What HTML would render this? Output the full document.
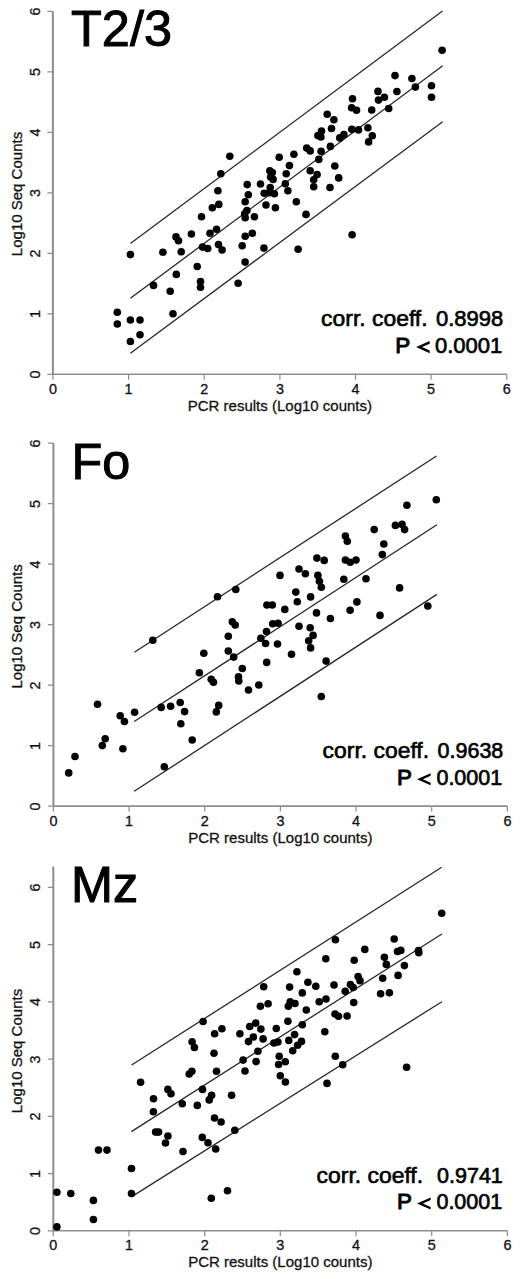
<!DOCTYPE html>
<html><head><meta charset="utf-8"><style>
html,body{margin:0;padding:0;background:#fff;}
svg{display:block;}
text{font-family:"Liberation Sans",sans-serif;fill:#000;}
.tk{font-size:14.4px;fill:#111;stroke:#111;stroke-width:0.3;}
.lb{font-size:15px;fill:#111;stroke:#111;stroke-width:0.3;}
.tt{font-size:50.4px;stroke:#000;stroke-width:1.0;}
.cc{font-size:22.4px;font-weight:normal;stroke:#000;stroke-width:0.65;}
</style></head><body>
<svg width="520" height="1279" viewBox="0 0 520 1279">
<rect width="520" height="1279" fill="#fff"/>
<g stroke="#8e8e8e" fill="none"><path stroke-width="1.6" d="M52.9 374.3H506.8"/><path stroke-width="2.0" d="M52.9 374.3V11.3"/><path stroke-width="1.2" d="M52.9 374.3v5.5M128.6 374.3v5.5M204.2 374.3v5.5M279.9 374.3v5.5M355.5 374.3v5.5M431.1 374.3v5.5M506.8 374.3v5.5"/><path stroke-width="1.2" d="M52.9 374.3h-5.5M52.9 313.8h-5.5M52.9 253.3h-5.5M52.9 192.8h-5.5M52.9 132.3h-5.5M52.9 71.8h-5.5M52.9 11.3h-5.5"/></g>
<text class="tk" x="52.9" y="393.7" text-anchor="middle">0</text><text class="tk" x="128.6" y="393.7" text-anchor="middle">1</text><text class="tk" x="204.2" y="393.7" text-anchor="middle">2</text><text class="tk" x="279.9" y="393.7" text-anchor="middle">3</text><text class="tk" x="355.5" y="393.7" text-anchor="middle">4</text><text class="tk" x="431.1" y="393.7" text-anchor="middle">5</text><text class="tk" x="506.8" y="393.7" text-anchor="middle">6</text>
<text class="tk" transform="translate(39.6 374.6) rotate(-90)" text-anchor="middle">0</text><text class="tk" transform="translate(39.6 314.1) rotate(-90)" text-anchor="middle">1</text><text class="tk" transform="translate(39.6 253.6) rotate(-90)" text-anchor="middle">2</text><text class="tk" transform="translate(39.6 193.1) rotate(-90)" text-anchor="middle">3</text><text class="tk" transform="translate(39.6 132.6) rotate(-90)" text-anchor="middle">4</text><text class="tk" transform="translate(39.6 72.1) rotate(-90)" text-anchor="middle">5</text><text class="tk" transform="translate(39.6 11.6) rotate(-90)" text-anchor="middle">6</text>
<text class="lb" x="279.9" y="410.8" text-anchor="middle">PCR results (Log10 counts)</text>
<text class="lb" transform="translate(22 194) rotate(-90)" text-anchor="middle">Log10 Seq Counts</text>
<text class="tt" x="71.1" y="45.6">T2/3</text>
<g stroke="#262626" stroke-width="1.3"><line x1="130.4" y1="243.5" x2="442.5" y2="11.1"/><line x1="130.4" y1="298.3" x2="442.7" y2="65.8"/><line x1="130.4" y1="353.3" x2="442.7" y2="121.7"/></g>
<g fill="#000"><circle cx="130.4" cy="254.6" r="3.8"/><circle cx="162.9" cy="252.3" r="3.8"/><circle cx="176" cy="236.9" r="3.8"/><circle cx="178.5" cy="240.8" r="3.8"/><circle cx="191.4" cy="234" r="3.8"/><circle cx="181.2" cy="251.7" r="3.8"/><circle cx="197.2" cy="266.5" r="3.8"/><circle cx="176.3" cy="274.4" r="3.8"/><circle cx="153.5" cy="285.4" r="3.8"/><circle cx="170.2" cy="291.2" r="3.8"/><circle cx="200.5" cy="281.6" r="3.8"/><circle cx="200.5" cy="287.3" r="3.8"/><circle cx="117.3" cy="312.3" r="3.8"/><circle cx="117.3" cy="324" r="3.8"/><circle cx="130.4" cy="320" r="3.8"/><circle cx="140" cy="320" r="3.8"/><circle cx="173" cy="313.7" r="3.8"/><circle cx="140" cy="334.8" r="3.8"/><circle cx="130.4" cy="341.5" r="3.8"/><circle cx="229.8" cy="156.2" r="3.8"/><circle cx="279.2" cy="157.3" r="3.8"/><circle cx="289.4" cy="165.6" r="3.8"/><circle cx="220.8" cy="173.7" r="3.8"/><circle cx="269.8" cy="170.8" r="3.8"/><circle cx="272.3" cy="172.5" r="3.8"/><circle cx="270.6" cy="177.1" r="3.8"/><circle cx="273.1" cy="179.4" r="3.8"/><circle cx="286.2" cy="173.7" r="3.8"/><circle cx="247.2" cy="184.6" r="3.8"/><circle cx="260.5" cy="184" r="3.8"/><circle cx="285.3" cy="183.8" r="3.8"/><circle cx="217.9" cy="190.8" r="3.8"/><circle cx="270.2" cy="187.5" r="3.8"/><circle cx="264.2" cy="193.3" r="3.8"/><circle cx="269.4" cy="192.7" r="3.8"/><circle cx="274.4" cy="193.8" r="3.8"/><circle cx="248.3" cy="194.8" r="3.8"/><circle cx="287.9" cy="190.7" r="3.8"/><circle cx="245.2" cy="201.7" r="3.8"/><circle cx="218.8" cy="204.4" r="3.8"/><circle cx="212.3" cy="207.7" r="3.8"/><circle cx="266" cy="205" r="3.8"/><circle cx="275.4" cy="207.8" r="3.8"/><circle cx="246.9" cy="210.6" r="3.8"/><circle cx="244.7" cy="213.8" r="3.8"/><circle cx="245.2" cy="217.8" r="3.8"/><circle cx="254.4" cy="216.8" r="3.8"/><circle cx="201.5" cy="216.7" r="3.8"/><circle cx="210" cy="233.3" r="3.8"/><circle cx="216.5" cy="229.2" r="3.8"/><circle cx="245.2" cy="236.3" r="3.8"/><circle cx="252.3" cy="233.2" r="3.8"/><circle cx="202.5" cy="247.1" r="3.8"/><circle cx="207.7" cy="248.5" r="3.8"/><circle cx="218.5" cy="244.6" r="3.8"/><circle cx="222.1" cy="250" r="3.8"/><circle cx="242.2" cy="245.8" r="3.8"/><circle cx="263.9" cy="248.1" r="3.8"/><circle cx="245.1" cy="262.1" r="3.8"/><circle cx="238.1" cy="283.3" r="3.8"/><circle cx="352.5" cy="98.7" r="3.8"/><circle cx="378" cy="91.4" r="3.8"/><circle cx="378.5" cy="100.1" r="3.8"/><circle cx="351.6" cy="107.8" r="3.8"/><circle cx="356.5" cy="110.2" r="3.8"/><circle cx="371.7" cy="110" r="3.8"/><circle cx="327.2" cy="114.3" r="3.8"/><circle cx="333.9" cy="119.8" r="3.8"/><circle cx="331.5" cy="128.5" r="3.8"/><circle cx="351.8" cy="129.3" r="3.8"/><circle cx="358.5" cy="129.9" r="3.8"/><circle cx="367.9" cy="127.8" r="3.8"/><circle cx="321.5" cy="131.1" r="3.8"/><circle cx="317.9" cy="135.6" r="3.8"/><circle cx="320.9" cy="137" r="3.8"/><circle cx="339.8" cy="137.9" r="3.8"/><circle cx="343.9" cy="134.6" r="3.8"/><circle cx="372.3" cy="135.8" r="3.8"/><circle cx="368.6" cy="141.9" r="3.8"/><circle cx="330.4" cy="146.4" r="3.8"/><circle cx="306.7" cy="148.1" r="3.8"/><circle cx="310.2" cy="150.9" r="3.8"/><circle cx="321.1" cy="151.2" r="3.8"/><circle cx="293.9" cy="154.2" r="3.8"/><circle cx="318.8" cy="159.4" r="3.8"/><circle cx="334.8" cy="166" r="3.8"/><circle cx="310.2" cy="170.8" r="3.8"/><circle cx="317.1" cy="174.6" r="3.8"/><circle cx="338.7" cy="177.9" r="3.8"/><circle cx="313.7" cy="179.8" r="3.8"/><circle cx="313.7" cy="186.7" r="3.8"/><circle cx="330" cy="187.5" r="3.8"/><circle cx="296.3" cy="201.7" r="3.8"/><circle cx="306" cy="214.4" r="3.8"/><circle cx="352.1" cy="234.7" r="3.8"/><circle cx="298.1" cy="249.3" r="3.8"/><circle cx="442.1" cy="50.2" r="3.8"/><circle cx="395" cy="75.6" r="3.8"/><circle cx="411.9" cy="78.5" r="3.8"/><circle cx="415.4" cy="87.1" r="3.8"/><circle cx="431.5" cy="85.8" r="3.8"/><circle cx="431.5" cy="97.3" r="3.8"/><circle cx="396.9" cy="91.5" r="3.8"/><circle cx="384.4" cy="97.3" r="3.8"/><circle cx="388.7" cy="108.5" r="3.8"/></g>
<text class="cc" style="font-size:22.9px" x="321.1" y="325.7">corr. coeff.</text><text class="cc" style="font-size:22.0px" x="503.3" y="325.7" text-anchor="end">0.8998</text>
<text class="cc" style="font-size:22.4px;stroke-width:1px" x="395.2" y="352.5">P</text><polygon fill="#000" points="416.1,347.1 429.7,341.1 429.7,343.7 422,347.1 429.7,350.6 429.7,353.2"/><text class="cc" style="font-size:22.0px" x="502.2" y="352.5" text-anchor="end">0.0001</text>
<g stroke="#8e8e8e" fill="none"><path stroke-width="1.6" d="M53.4 806.1H507.4"/><path stroke-width="2.0" d="M53.4 806.1V443.1"/><path stroke-width="1.2" d="M53.4 806.1v5.5M129.1 806.1v5.5M204.7 806.1v5.5M280.4 806.1v5.5M356.1 806.1v5.5M431.7 806.1v5.5M507.4 806.1v5.5"/><path stroke-width="1.2" d="M53.4 806.1h-5.5M53.4 745.6h-5.5M53.4 685.1h-5.5M53.4 624.6h-5.5M53.4 564.1h-5.5M53.4 503.6h-5.5M53.4 443.1h-5.5"/></g>
<text class="tk" x="53.4" y="825.5" text-anchor="middle">0</text><text class="tk" x="129.1" y="825.5" text-anchor="middle">1</text><text class="tk" x="204.7" y="825.5" text-anchor="middle">2</text><text class="tk" x="280.4" y="825.5" text-anchor="middle">3</text><text class="tk" x="356.1" y="825.5" text-anchor="middle">4</text><text class="tk" x="431.7" y="825.5" text-anchor="middle">5</text><text class="tk" x="507.4" y="825.5" text-anchor="middle">6</text>
<text class="tk" transform="translate(39.6 806.4) rotate(-90)" text-anchor="middle">0</text><text class="tk" transform="translate(39.6 745.9) rotate(-90)" text-anchor="middle">1</text><text class="tk" transform="translate(39.6 685.4) rotate(-90)" text-anchor="middle">2</text><text class="tk" transform="translate(39.6 624.9) rotate(-90)" text-anchor="middle">3</text><text class="tk" transform="translate(39.6 564.4) rotate(-90)" text-anchor="middle">4</text><text class="tk" transform="translate(39.6 503.9) rotate(-90)" text-anchor="middle">5</text><text class="tk" transform="translate(39.6 443.4) rotate(-90)" text-anchor="middle">6</text>
<text class="lb" x="280.4" y="842.6" text-anchor="middle">PCR results (Log10 counts)</text>
<text class="lb" transform="translate(22 626.4) rotate(-90)" text-anchor="middle">Log10 Seq Counts</text>
<text class="tt" x="71.6" y="478.5">Fo</text>
<g stroke="#262626" stroke-width="1.3"><line x1="134.4" y1="652.3" x2="436.5" y2="456"/><line x1="134.2" y1="721.5" x2="436.9" y2="524.8"/><line x1="134.2" y1="791.3" x2="436.9" y2="594.4"/></g>
<g fill="#000"><circle cx="97.5" cy="704.2" r="3.8"/><circle cx="134.6" cy="712.3" r="3.8"/><circle cx="120.2" cy="715.8" r="3.8"/><circle cx="124.4" cy="721.5" r="3.8"/><circle cx="105.2" cy="738.8" r="3.8"/><circle cx="102.3" cy="745.6" r="3.8"/><circle cx="122.9" cy="748.8" r="3.8"/><circle cx="75" cy="756.5" r="3.8"/><circle cx="68.7" cy="772.9" r="3.8"/><circle cx="161.2" cy="707.4" r="3.8"/><circle cx="152.8" cy="640.3" r="3.8"/><circle cx="232.3" cy="621.7" r="3.8"/><circle cx="235.2" cy="625" r="3.8"/><circle cx="228.3" cy="636.2" r="3.8"/><circle cx="203.8" cy="653.3" r="3.8"/><circle cx="228.3" cy="651" r="3.8"/><circle cx="233.7" cy="657.1" r="3.8"/><circle cx="242.3" cy="668.5" r="3.8"/><circle cx="199.4" cy="672.7" r="3.8"/><circle cx="211.2" cy="679.2" r="3.8"/><circle cx="213.5" cy="682.3" r="3.8"/><circle cx="238.5" cy="676.9" r="3.8"/><circle cx="238.8" cy="681" r="3.8"/><circle cx="248.5" cy="690" r="3.8"/><circle cx="170.6" cy="706.3" r="3.8"/><circle cx="180.2" cy="702.5" r="3.8"/><circle cx="184.6" cy="711.6" r="3.8"/><circle cx="218.7" cy="705.4" r="3.8"/><circle cx="216.3" cy="711.9" r="3.8"/><circle cx="180.8" cy="723.7" r="3.8"/><circle cx="192.2" cy="740" r="3.8"/><circle cx="164.3" cy="766.8" r="3.8"/><circle cx="316.9" cy="558.1" r="3.8"/><circle cx="324.2" cy="560.4" r="3.8"/><circle cx="299" cy="569" r="3.8"/><circle cx="305.4" cy="573.8" r="3.8"/><circle cx="280" cy="575.4" r="3.8"/><circle cx="317.9" cy="575.4" r="3.8"/><circle cx="319.4" cy="581.2" r="3.8"/><circle cx="321.3" cy="587.3" r="3.8"/><circle cx="295.8" cy="592.1" r="3.8"/><circle cx="310.6" cy="596.9" r="3.8"/><circle cx="297.3" cy="601.7" r="3.8"/><circle cx="266.9" cy="605" r="3.8"/><circle cx="272.3" cy="605" r="3.8"/><circle cx="284.8" cy="609.4" r="3.8"/><circle cx="316.5" cy="612.9" r="3.8"/><circle cx="330.4" cy="618.5" r="3.8"/><circle cx="272.7" cy="623.8" r="3.8"/><circle cx="278.1" cy="623.3" r="3.8"/><circle cx="266.5" cy="631.5" r="3.8"/><circle cx="299" cy="626.3" r="3.8"/><circle cx="310.2" cy="627.7" r="3.8"/><circle cx="313.1" cy="635.4" r="3.8"/><circle cx="308.7" cy="640.8" r="3.8"/><circle cx="310.6" cy="647.9" r="3.8"/><circle cx="260.8" cy="638.3" r="3.8"/><circle cx="265.6" cy="643.5" r="3.8"/><circle cx="277.5" cy="644" r="3.8"/><circle cx="291.5" cy="654.2" r="3.8"/><circle cx="266.7" cy="662.4" r="3.8"/><circle cx="326.1" cy="661.1" r="3.8"/><circle cx="258.8" cy="685" r="3.8"/><circle cx="321.3" cy="696.5" r="3.8"/><circle cx="406.9" cy="505.2" r="3.8"/><circle cx="395.4" cy="525.4" r="3.8"/><circle cx="402.1" cy="524.4" r="3.8"/><circle cx="404.6" cy="529.6" r="3.8"/><circle cx="374.2" cy="529.6" r="3.8"/><circle cx="345.4" cy="536" r="3.8"/><circle cx="347.3" cy="541.3" r="3.8"/><circle cx="383.8" cy="544" r="3.8"/><circle cx="382.3" cy="554.6" r="3.8"/><circle cx="345.4" cy="560" r="3.8"/><circle cx="350.2" cy="562.3" r="3.8"/><circle cx="356" cy="560" r="3.8"/><circle cx="343.8" cy="579.2" r="3.8"/><circle cx="366" cy="578.8" r="3.8"/><circle cx="399.6" cy="587.9" r="3.8"/><circle cx="356.9" cy="601.9" r="3.8"/><circle cx="350.1" cy="610.3" r="3.8"/><circle cx="427.8" cy="606" r="3.8"/><circle cx="380" cy="615.4" r="3.8"/><circle cx="436.3" cy="499.8" r="3.8"/><circle cx="217.5" cy="596.8" r="3.8"/><circle cx="235.8" cy="589.5" r="3.8"/></g>
<text class="cc" style="font-size:22.9px" x="322.6" y="758.4">corr. coeff.</text><text class="cc" style="font-size:21.5px" x="503.3" y="758.4" text-anchor="end">0.9638</text>
<text class="cc" style="font-size:22.4px;stroke-width:1px" x="396.9" y="784.6">P</text><polygon fill="#000" points="417,779.2 430.6,773.2 430.6,775.8 422.9,779.2 430.6,782.7 430.6,785.3"/><text class="cc" style="font-size:21.5px" x="502.2" y="784.6" text-anchor="end">0.0001</text>
<g stroke="#8e8e8e" fill="none"><path stroke-width="1.6" d="M53.3 1230.8H507.4"/><path stroke-width="2.0" d="M53.3 1230.8V866.5"/><path stroke-width="1.2" d="M53.3 1230.8v5.5M129 1230.8v5.5M204.7 1230.8v5.5M280.3 1230.8v5.5M356 1230.8v5.5M431.7 1230.8v5.5M507.4 1230.8v5.5"/><path stroke-width="1.2" d="M53.3 1230.8h-5.5M53.3 1173.6h-5.5M53.3 1116.3h-5.5M53.3 1059.1h-5.5M53.3 1001.8h-5.5M53.3 944.6h-5.5M53.3 887.3h-5.5"/></g>
<text class="tk" x="53.3" y="1250.2" text-anchor="middle">0</text><text class="tk" x="129" y="1250.2" text-anchor="middle">1</text><text class="tk" x="204.7" y="1250.2" text-anchor="middle">2</text><text class="tk" x="280.3" y="1250.2" text-anchor="middle">3</text><text class="tk" x="356" y="1250.2" text-anchor="middle">4</text><text class="tk" x="431.7" y="1250.2" text-anchor="middle">5</text><text class="tk" x="507.4" y="1250.2" text-anchor="middle">6</text>
<text class="tk" transform="translate(39.6 1231.1) rotate(-90)" text-anchor="middle">0</text><text class="tk" transform="translate(39.6 1173.9) rotate(-90)" text-anchor="middle">1</text><text class="tk" transform="translate(39.6 1116.6) rotate(-90)" text-anchor="middle">2</text><text class="tk" transform="translate(39.6 1059.4) rotate(-90)" text-anchor="middle">3</text><text class="tk" transform="translate(39.6 1002.1) rotate(-90)" text-anchor="middle">4</text><text class="tk" transform="translate(39.6 944.9) rotate(-90)" text-anchor="middle">5</text><text class="tk" transform="translate(39.6 887.6) rotate(-90)" text-anchor="middle">6</text>
<text class="lb" x="280.3" y="1267.3" text-anchor="middle">PCR results (Log10 counts)</text>
<text class="lb" transform="translate(22 1051) rotate(-90)" text-anchor="middle">Log10 Seq Counts</text>
<text class="tt" x="71" y="902.4">Mz</text>
<g stroke="#262626" stroke-width="1.3"><line x1="131.6" y1="1065" x2="441.7" y2="867.3"/><line x1="131.4" y1="1131.6" x2="441.9" y2="934"/><line x1="131.4" y1="1196.9" x2="441.9" y2="1001.7"/></g>
<g fill="#000"><circle cx="56.9" cy="1192.3" r="3.8"/><circle cx="70.8" cy="1193.5" r="3.8"/><circle cx="93.4" cy="1200.4" r="3.8"/><circle cx="93.4" cy="1219.5" r="3.8"/><circle cx="56.9" cy="1226.9" r="3.8"/><circle cx="98.5" cy="1150.1" r="3.8"/><circle cx="107" cy="1150.1" r="3.8"/><circle cx="131.5" cy="1168.5" r="3.8"/><circle cx="131.5" cy="1193.5" r="3.8"/><circle cx="153.4" cy="1111.8" r="3.8"/><circle cx="153.5" cy="1098.7" r="3.8"/><circle cx="140.6" cy="1082.3" r="3.8"/><circle cx="155.6" cy="1132.1" r="3.8"/><circle cx="158.6" cy="1132.1" r="3.8"/><circle cx="167.9" cy="1136" r="3.8"/><circle cx="165.5" cy="1143" r="3.8"/><circle cx="167.9" cy="1089.4" r="3.8"/><circle cx="171" cy="1093.8" r="3.8"/><circle cx="182.3" cy="1103.8" r="3.8"/><circle cx="183" cy="1151.5" r="3.8"/><circle cx="197.3" cy="1105.4" r="3.8"/><circle cx="202.5" cy="1089.4" r="3.8"/><circle cx="211.6" cy="1095.2" r="3.8"/><circle cx="209.2" cy="1099.9" r="3.8"/><circle cx="231.6" cy="1095.3" r="3.8"/><circle cx="202.3" cy="1137.4" r="3.8"/><circle cx="208" cy="1142.8" r="3.8"/><circle cx="215.7" cy="1149" r="3.8"/><circle cx="214.5" cy="1118" r="3.8"/><circle cx="221.1" cy="1122" r="3.8"/><circle cx="234.8" cy="1130.2" r="3.8"/><circle cx="227.5" cy="1190.8" r="3.8"/><circle cx="211.3" cy="1198.3" r="3.8"/><circle cx="203.1" cy="1021.5" r="3.8"/><circle cx="221.9" cy="1028.8" r="3.8"/><circle cx="214.6" cy="1033.7" r="3.8"/><circle cx="192.1" cy="1041.7" r="3.8"/><circle cx="194.4" cy="1047.5" r="3.8"/><circle cx="214" cy="1053.3" r="3.8"/><circle cx="191.9" cy="1071.3" r="3.8"/><circle cx="189.2" cy="1074" r="3.8"/><circle cx="216.5" cy="1071.3" r="3.8"/><circle cx="296.9" cy="971.7" r="3.8"/><circle cx="307.9" cy="982.3" r="3.8"/><circle cx="315.8" cy="986.2" r="3.8"/><circle cx="263.7" cy="986.7" r="3.8"/><circle cx="289.6" cy="987.1" r="3.8"/><circle cx="302.3" cy="992.9" r="3.8"/><circle cx="319.2" cy="1001.7" r="3.8"/><circle cx="268.1" cy="1003.8" r="3.8"/><circle cx="260.4" cy="1006.3" r="3.8"/><circle cx="290.2" cy="1001.9" r="3.8"/><circle cx="295" cy="1003.5" r="3.8"/><circle cx="288.3" cy="1006.3" r="3.8"/><circle cx="306.3" cy="1010" r="3.8"/><circle cx="287.9" cy="1021.2" r="3.8"/><circle cx="302.3" cy="1024.7" r="3.8"/><circle cx="255.7" cy="1023.1" r="3.8"/><circle cx="249.7" cy="1026.5" r="3.8"/><circle cx="260.9" cy="1029.1" r="3.8"/><circle cx="276.3" cy="1028.5" r="3.8"/><circle cx="239.9" cy="1033.7" r="3.8"/><circle cx="253.3" cy="1037" r="3.8"/><circle cx="248.5" cy="1041.6" r="3.8"/><circle cx="263.1" cy="1038.9" r="3.8"/><circle cx="294.6" cy="1034.6" r="3.8"/><circle cx="288.8" cy="1040.4" r="3.8"/><circle cx="301.5" cy="1041.4" r="3.8"/><circle cx="297.6" cy="1045.2" r="3.8"/><circle cx="273.9" cy="1043" r="3.8"/><circle cx="277.9" cy="1042" r="3.8"/><circle cx="292.7" cy="1050.7" r="3.8"/><circle cx="257.9" cy="1051.2" r="3.8"/><circle cx="243.1" cy="1060.1" r="3.8"/><circle cx="256.1" cy="1061.6" r="3.8"/><circle cx="279.2" cy="1056.3" r="3.8"/><circle cx="285.3" cy="1061.7" r="3.8"/><circle cx="278.6" cy="1064.5" r="3.8"/><circle cx="245" cy="1071" r="3.8"/><circle cx="280.3" cy="1075.7" r="3.8"/><circle cx="285.4" cy="1082" r="3.8"/><circle cx="335.4" cy="939.8" r="3.8"/><circle cx="394.2" cy="939" r="3.8"/><circle cx="364.8" cy="949.4" r="3.8"/><circle cx="397.5" cy="951.5" r="3.8"/><circle cx="400.8" cy="950.4" r="3.8"/><circle cx="325.8" cy="958.7" r="3.8"/><circle cx="354.2" cy="960.2" r="3.8"/><circle cx="384.4" cy="957.3" r="3.8"/><circle cx="386.3" cy="964.4" r="3.8"/><circle cx="404.4" cy="965.6" r="3.8"/><circle cx="358.1" cy="976.5" r="3.8"/><circle cx="360" cy="980.8" r="3.8"/><circle cx="382.7" cy="978.3" r="3.8"/><circle cx="398.1" cy="975.4" r="3.8"/><circle cx="334" cy="985" r="3.8"/><circle cx="350.4" cy="984.6" r="3.8"/><circle cx="353.3" cy="987.5" r="3.8"/><circle cx="345.2" cy="991.3" r="3.8"/><circle cx="380.6" cy="993.7" r="3.8"/><circle cx="389.4" cy="992.7" r="3.8"/><circle cx="326" cy="999" r="3.8"/><circle cx="353.7" cy="1002.5" r="3.8"/><circle cx="335" cy="1014" r="3.8"/><circle cx="338.5" cy="1016.3" r="3.8"/><circle cx="347.1" cy="1016" r="3.8"/><circle cx="324.8" cy="1031.7" r="3.8"/><circle cx="441.7" cy="913.3" r="3.8"/><circle cx="418.5" cy="950.6" r="3.8"/><circle cx="418.8" cy="952.8" r="3.8"/><circle cx="335.3" cy="1056.2" r="3.8"/><circle cx="342.7" cy="1064.7" r="3.8"/><circle cx="406.6" cy="1067.2" r="3.8"/><circle cx="327" cy="1083.4" r="3.8"/></g>
<text class="cc" style="font-size:22.9px" x="316.6" y="1182.6">corr. coeff.</text><text class="cc" style="font-size:21.5px" x="502.8" y="1182.6" text-anchor="end">0.9741</text>
<text class="cc" style="font-size:22.4px;stroke-width:1px" x="396.9" y="1208.8">P</text><polygon fill="#000" points="417,1203.5 430.6,1197.4 430.6,1200 422.9,1203.5 430.6,1206.9 430.6,1209.5"/><text class="cc" style="font-size:21.5px" x="502.2" y="1208.8" text-anchor="end">0.0001</text>
</svg>
</body></html>
